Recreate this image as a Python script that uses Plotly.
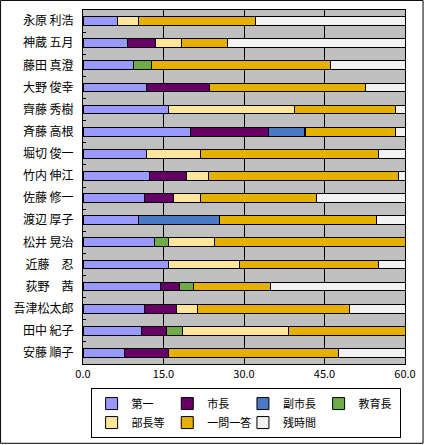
import plotly.graph_objects as go

names = ["永原 利浩", "神蔵 五月", "藤田 真澄", "大野 俊幸", "齊藤 秀樹", "斉藤 高根",
         "堀切 俊一", "竹内 伸江", "佐藤 修一", "渡辺 厚子", "松井 晃治", "近藤　忍",
         "荻野　茜", "吾津松太郎", "田中 紀子", "安藤 順子"]

# minutes per speaker
daiichi   = [6.4, 8.3, 9.4, 11.9, 15.9, 20.0, 11.9, 12.3, 11.5, 10.3, 13.4, 15.9, 14.4, 11.4, 10.9, 7.8]
shicho    = [0, 5.2, 0, 11.6, 0, 14.6, 0, 7.0, 5.4, 0, 0, 0, 3.6, 6.1, 4.7, 8.2]
fukushi   = [0, 0, 0, 0, 0, 6.6, 0, 0, 0, 15.2, 0, 0, 0, 0, 0, 0]
kyoiku    = [0, 0, 3.4, 0, 0, 0.3, 0, 0, 0, 0, 2.6, 0, 2.5, 0, 2.9, 0]
bucho     = [4.0, 4.9, 0, 0, 23.5, 0, 10.0, 4.1, 5.0, 0, 8.5, 13.2, 0, 3.9, 19.7, 0]
ichimon   = [21.7, 8.6, 33.3, 29.1, 18.8, 16.7, 33.2, 35.3, 21.6, 29.2, 35.5, 26.0, 14.4, 28.2, 21.8, 31.55]
zan       = [27.9, 33.0, 13.9, 7.4, 1.8, 1.8, 4.9, 1.3, 16.5, 5.3, 0, 4.9, 25.1, 10.4, 0, 12.45]

series = [
    ("第一", daiichi, "#9999ff"),
    ("市長", shicho, "#660066"),
    ("副市長", fukushi, "#4a78c4"),
    ("教育長", kyoiku, "#6fab46"),
    ("部長等", bucho, "#ffe699"),
    ("一問一答", ichimon, "#e6b000"),
    ("残時間", zan, "#f2f2f2"),
]

fig = go.Figure()
for label, vals, color in series:
    fig.add_trace(go.Bar(
        y=names, x=vals, name=label, orientation="h",
        marker=dict(color=color, line=dict(color="black", width=1)),
    ))

fig.update_layout(
    barmode="stack",
    bargap=0.6,
    width=425, height=445,
    margin=dict(l=83, r=20, t=10, b=81, autoexpand=False),
    paper_bgcolor="white",
    plot_bgcolor="#c0c0c0",
    font=dict(family="Noto Sans CJK JP", size=12, color="black"),
    legend=dict(
        orientation="h", x=0.505, xanchor="center", y=-0.068, yanchor="top",
        entrywidth=0.235, entrywidthmode="fraction",
        bordercolor="black", borderwidth=1, bgcolor="white",
        font=dict(size=11), traceorder="normal",
    ),
    shapes=[dict(type="rect", xref="paper", yref="paper",
                 x0=-0.256, x1=1.056, y0=-0.224, y1=1.027,
                 line=dict(color="black", width=1))],
)
fig.update_xaxes(
    range=[0, 60], dtick=15, tickformat=".1f",
    showgrid=True, gridcolor="black", gridwidth=1,
    showline=True, linecolor="black", mirror=True,
    zeroline=False, tickfont=dict(size=11), automargin=False,
)
fig.update_yaxes(
    autorange="reversed", automargin=False,
    showline=True, linecolor="black", mirror=True,
    ticks="inside", ticklen=3, tickcolor="black", tickson="boundaries",
    ticklabelstandoff=6,
)

# drop the page's default body margin so the chart sits at the window corner
fig.write_html("out.html", config={"displayModeBar": False},
               post_script="document.body.style.margin='0';")
